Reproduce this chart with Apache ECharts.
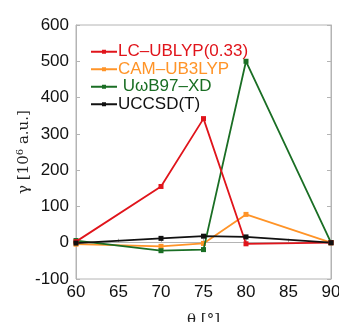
<!DOCTYPE html>
<html>
<head>
<meta charset="utf-8">
<script src="https://cdn.jsdelivr.net/npm/echarts@6/dist/echarts.min.js"></script>
<style>
  html, body { margin: 0; padding: 0; background: #fff; }
  #chart { width: 339px; height: 322px; }
</style>
</head>
<body>
<div id="chart"></div>
<script>
const angles = [60, 70, 75, 80, 90];
const lcUblyp = [3, 155, 342, -3, 0];
const camUb3lyp = [-4, -10, -2, 78, 0];
const uwb97xd = [6, -22, -19, 500, 0];
const uccsdt = [-1, 12, 18, 16, 0];

const names = ['LC\u2013UBLYP(0.33)', 'CAM\u2013UB3LYP', ' U\u03c9B97\u2013XD', 'UCCSD(T)'];
const colors = ['#e0141b', '#ff9428', '#1a6e24', '#111111'];
const values = [lcUblyp, camUb3lyp, uwb97xd, uccsdt];

const font = 'Liberation Sans, Arial, sans-serif';
const frame = '#b4b4b4';

const chart = echarts.init(document.getElementById('chart'));

chart.setOption({
    animation: false,
    grid: {
        left: 76,
        right: 8,
        top: 25,
        bottom: 43,
        show: true,
        borderColor: frame,
        borderWidth: 1,
        containLabel: false,
        outerBoundsMode: 'none'
    },
    legend: {
        orient: 'vertical',
        left: 85,
        top: 38,
        itemGap: 0,
        itemWidth: 26,
        itemHeight: 5,
        data: names.map((n, i) => ({
            name: n,
            textStyle: { color: colors[i] }
        })),
        textStyle: {
            fontFamily: font,
            fontSize: 17,
            lineHeight: 17.5,
            padding: [0, 0, 0, -4]
        }
    },
    xAxis: {
        type: 'value',
        min: 60,
        max: 90,
        interval: 5,
        name: '\u03b8 [\u00b0]',
        nameLocation: 'middle',
        nameGap: 34,
        nameMoveOverlap: false,
        nameTextStyle: { fontFamily: 'DejaVu Serif, serif', fontSize: 15, color: '#222' },
        axisLine: { lineStyle: { color: frame } },
        axisTick: { inside: true, length: 4, lineStyle: { color: frame } },
        splitLine: { show: false },
        axisLabel: { fontFamily: font, fontSize: 17, color: '#111', margin: 5 }
    },
    yAxis: [
        {
            type: 'value',
            min: -100,
            max: 600,
            interval: 100,
            name: '{g|\u03b3 [10}{s|6}{g| a.u.]}',
            nameLocation: 'middle',
            nameGap: 43,
            nameRotate: 90,
            nameMoveOverlap: false,
            nameTextStyle: {
                rich: {
                    g: { fontFamily: 'DejaVu Serif, serif', fontSize: 15, color: '#222' },
                    s: { fontFamily: 'DejaVu Serif, serif', fontSize: 10, color: '#222', verticalAlign: 'top', padding: [0, 0, 8, 0] }
                }
            },
            axisLine: { show: true, lineStyle: { color: frame } },
            axisTick: { show: true, inside: true, length: 4, lineStyle: { color: frame } },
            splitLine: { show: false },
            axisLabel: { fontFamily: font, fontSize: 17, color: '#111', margin: 7 }
        },
        {
            type: 'value',
            position: 'right',
            min: -100,
            max: 600,
            interval: 100,
            axisLine: { show: true, lineStyle: { color: frame } },
            axisTick: { show: true, inside: true, length: 4, lineStyle: { color: frame } },
            splitLine: { show: false },
            axisLabel: { show: false }
        }
    ],
    series: names.map((n, i) => ({
        name: n,
        type: 'line',
        data: angles.map((a, j) => [a, values[i][j]]),
        symbol: 'rect',
        symbolSize: 5,
        lineStyle: { width: 1.8, color: colors[i] },
        itemStyle: { color: colors[i] },
        z: i === 0 ? 5 : 2 + i
    }))
});
</script>
</body>
</html>
